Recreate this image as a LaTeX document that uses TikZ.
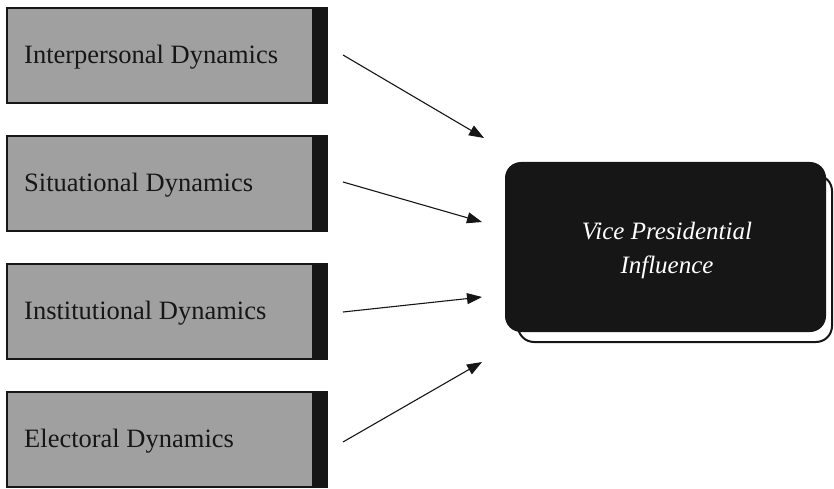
\documentclass[tikz,border=0pt]{standalone}
\usepackage{fontspec}
\setmainfont{Liberation Serif}
\usetikzlibrary{arrows.meta}
\definecolor{boxgrey}{HTML}{A0A0A0}
\definecolor{boxdark}{HTML}{161616}
\begin{document}
\begin{tikzpicture}[x=1pt,y=-1pt,
  dynbox/.style={draw=boxdark,line width=1.5pt,fill=boxgrey},
  dynstrip/.style={fill=boxdark},
  dynlabel/.style={anchor=west,font=\fontsize{26.5}{30}\selectfont,text=boxdark,inner sep=0pt},
  flow/.style={draw=boxdark,line width=1.1pt,-{Triangle[length=15pt,width=11pt]}},
  mainbox/.style={fill=boxdark,rounded corners=16pt},
  mainshadow/.style={draw=boxdark,line width=2pt,fill=white,rounded corners=16pt}]
\useasboundingbox (0,0) rectangle (834,489);
% left boxes
\foreach \i/\t/\txt in {1/8/Interpersonal Dynamics,2/136/Situational Dynamics,3/264/Institutional Dynamics,4/392/Electoral Dynamics}{
  \draw[dynbox] (7,\t) rectangle (327,\t+95);
  \fill[dynstrip] (312,\t) rectangle (327.8,\t+95.8);
  \node[dynlabel] (b\i) at (24,\t+49) {\txt};
}
% main box
\draw[mainshadow] (518,175) rectangle (832,342);
\fill[mainbox] (505,162) rectangle (826,332);
\node[align=center,text=white,font=\itshape\fontsize{25}{34}\selectfont] (vp) at (667,250) {Vice Presidential\\Influence};
\coordinate (t1) at (484,138);
\coordinate (t2) at (482,222);
\coordinate (t3) at (482,297);
\coordinate (t4) at (482,362);
\coordinate (s1) at (343,55);
\coordinate (s2) at (343,182);
\coordinate (s3) at (343,312);
\coordinate (s4) at (343,442);
\foreach \i in {1,2,3,4}{\draw[flow] (s\i) -- (t\i);}
\end{tikzpicture}
\end{document}
